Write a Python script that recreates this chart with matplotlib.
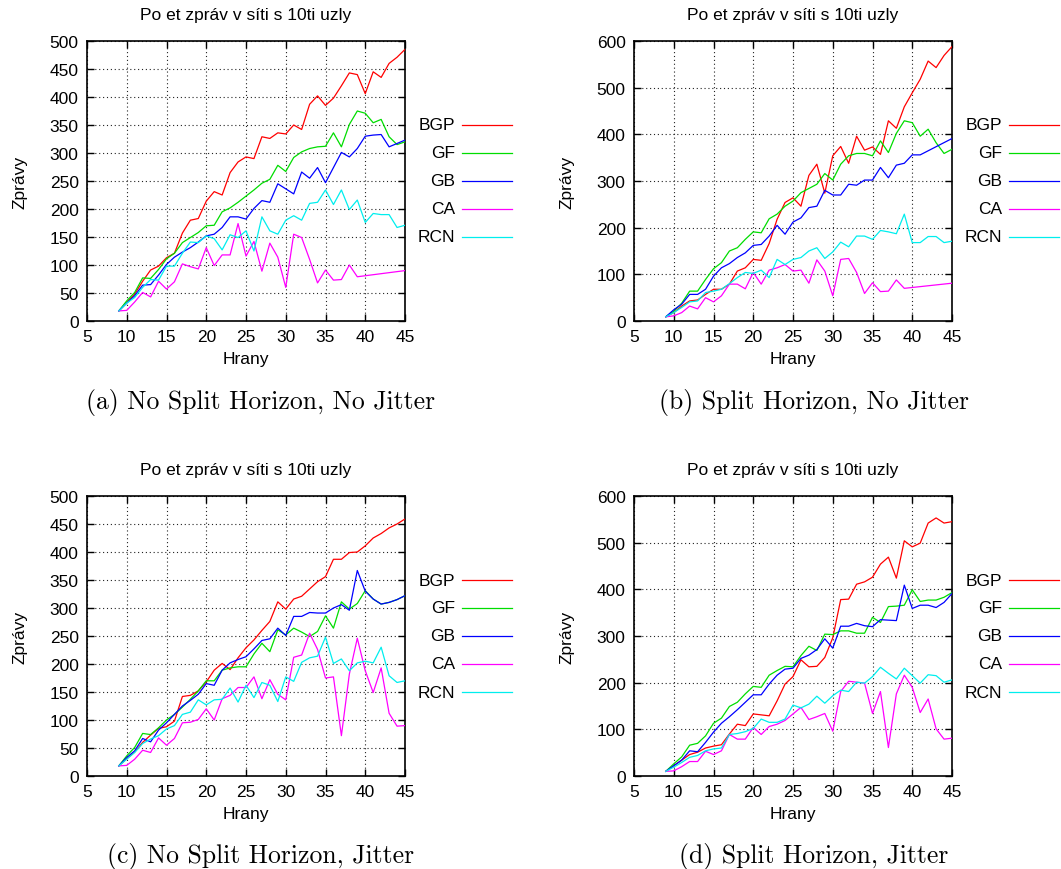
import matplotlib
matplotlib.use("Agg")
import matplotlib.pyplot as plt
from matplotlib.lines import Line2D
import numpy as np

# ---------------- data ----------------
EDGES = list(range(9, 46))
SERIES = ["BGP", "GF", "GB", "CA", "RCN"]
COLORS = {"BGP": "#ff0000", "GF": "#00dd00", "GB": "#0000ff", "CA": "#ff00ff", "RCN": "#00eeee"}
N = None

# (a) No Split Horizon, No Jitter
BGP_a = [18, 33, 48, 71, 91, 98, 113, 121, 157, 180, 183, 214, 231, 225, 265, 284, 293, 290, 329, 326,
         336, 334, 350, 342, 387, 402, 385, 398, 420, 443, 440, 406, 445, 435, 460, 471, 485]
GF_a = [18, 36, 51, 77, 76, 92, 111, 121, 140, 149, 158, 170, 171, 195, 202, 212, 223, 234, 246, 253,
        278, 267, 292, 302, 308, 311, 312, 336, 311, 351, 375, 371, 354, 360, 329, 315, 320]
GB_a = [18, 32, 45, 64, 65, 82, 101, 114, 123, 131, 141, 152, 155, 167, 186, 186, 182, 201, 215, 212,
        245, 236, 227, 266, 255, 274, 247, 274, 301, 293, 308, 330, 332, 333, 311, 317, 323]
CA_a = [18, 19, 34, 51, 43, 71, 57, 70, 102, 97, 93, 131, 99, 118, 118, 174, 116, 142, 89, 139,
        114, 60, 155, 149, 110, 68, 91, 73, 74, 100, 79, N, N, N, N, N, 90]
RCN_a = [18, 32, 42, 60, 74, 73, 98, 98, 121, 141, 140, 152, 147, 127, 154, 149, 161, 125, 186, 161,
         155, 180, 188, 180, 210, 212, 234, 208, 234, 199, 216, 176, 192, 190, 190, 167, 171]

# (b) Split Horizon, No Jitter
BGP_b = [9, 18, 32, 43, 45, 57, 68, 68, 79, 107, 114, 132, 130, 166, 218, 254, 264, 246, 312, 336,
         274, 354, 374, 338, 396, 366, 373, 357, 429, 413, 459, 489, 518, 557, 543, 569, 588]
GF_b = [9, 21, 38, 64, 64, 89, 112, 125, 150, 157, 175, 191, 189, 219, 229, 246, 257, 275, 284, 293,
        316, 302, 336, 354, 359, 359, 354, 386, 361, 402, 429, 425, 396, 411, 382, 359, 368]
GB_b = [9, 24, 36, 57, 57, 68, 96, 114, 123, 136, 146, 162, 164, 182, 205, 186, 212, 221, 243, 246,
        280, 270, 270, 293, 291, 302, 302, 329, 307, 334, 338, 356, 356, N, N, N, 391]
CA_b = [9, 11, 18, 32, 26, 50, 41, 54, 79, 79, 69, 104, 79, 109, 114, 121, 107, 109, 81, 131,
        107, 54, 132, 134, 104, 59, 82, 63, 64, 88, 70, N, N, N, N, N, 81]
RCN_b = [9, 18, 29, 41, 43, 61, 64, 68, 80, 93, 104, 102, 109, 93, 132, 121, 132, 136, 150, 157,
         134, 148, 169, 159, 182, 182, 175, 194, 191, 187, 229, 168, 168, 181, 181, 168, 171]

# (c) No Split Horizon, Jitter
BGP_c = [18, 31, 43, 60, 73, 85, 88, 98, 142, 144, 152, 168, 189, 201, 190, 211, 229, 243, 260, 276,
         311, 298, 316, 321, 334, 347, 356, 387, 387, 399, 400, 411, 425, 433, 443, 450, 459]
GF_c = [18, 36, 51, 76, 74, 86, 100, 110, 123, 137, 152, 170, 170, 189, 193, 195, 195, 218, 237, 222,
        261, 252, 264, 257, 249, 258, 286, 264, 311, 298, 308, 331, 316, 307, 310, 315, 322]
GB_c = [18, 33, 45, 67, 61, 82, 95, 110, 125, 135, 146, 165, 162, 189, 202, 208, 213, 227, 242, 245,
        264, 251, 285, 285, 292, 291, 291, 300, 306, 296, 367, 330, 316, 307, 310, 315, 322]
CA_c = [18, 19, 30, 46, 42, 68, 55, 67, 95, 96, 101, 120, 100, 138, 144, 158, 158, 177, 138, 172,
        146, 136, 212, 216, 255, 226, 175, 177, 72, 182, 246, 188, 149, 193, 112, 89, 90]
RCN_c = [18, 30, 42, 58, 66, 72, 84, 90, 110, 114, 136, 127, 136, 137, 157, 132, 162, 140, 167, 162,
         133, 177, 169, 203, 211, 214, 248, 201, 209, 188, 202, 205, 202, 230, 179, 167, 170]

# (d) Split Horizon, Jitter
BGP_d = [10, 22, 34, 46, 51, 60, 64, 67, 90, 111, 108, 133, 131, 129, 161, 197, 213, 249, 234, 235,
         254, 296, 378, 379, 411, 416, 426, 454, 469, 424, 504, 491, 499, 542, 553, 542, 545]
GF_d = [10, 26, 41, 66, 70, 86, 113, 124, 149, 158, 176, 192, 190, 216, 226, 235, 234, 258, 278, 269,
        304, 303, 311, 311, 306, 306, 340, 329, 363, 364, 366, 399, 374, 377, 377, 383, 393]
GB_d = [10, 22, 34, 54, 52, 72, 94, 113, 127, 142, 158, 174, 174, 197, 216, 229, 231, 252, 259, 271,
        294, 274, 321, 321, 327, 322, 320, 335, 334, 333, 409, 359, 366, 366, 361, 372, 391]
CA_d = [10, 11, 20, 31, 31, 53, 46, 54, 89, 79, 79, 104, 89, 106, 111, 119, 133, 147, 121, 127,
        134, 96, 181, 203, 201, 199, 134, 181, 61, 176, 216, 190, 136, 165, 101, 79, 81]
RCN_d = [10, 19, 29, 40, 44, 54, 58, 60, 89, 91, 95, 102, 122, 115, 115, 122, 152, 146, 154, 171,
         156, 172, 184, 181, 201, 199, 213, 233, 220, 208, 231, 215, 199, 217, 215, 201, 206]

TITLE = "Po et zpráv v síti s 10ti uzly"
XLABEL = "Hrany"
YLABEL = "Zprávy"
CAPTIONS = ["(a) No Split Horizon, No Jitter", "(b) Split Horizon, No Jitter",
            "(c) No Split Horizon, Jitter", "(d) Split Horizon, Jitter"]
X_TICKS = [5, 10, 15, 20, 25, 30, 35, 40, 45]
Y_TICKS_A = [0, 50, 100, 150, 200, 250, 300, 350, 400, 450, 500]
Y_TICKS_B = [0, 100, 200, 300, 400, 500, 600]

PANELS = [
    dict(data=[BGP_a, GF_a, GB_a, CA_a, RCN_a], yticks=Y_TICKS_A),
    dict(data=[BGP_b, GF_b, GB_b, CA_b, RCN_b], yticks=Y_TICKS_B),
    dict(data=[BGP_c, GF_c, GB_c, CA_c, RCN_c], yticks=Y_TICKS_A),
    dict(data=[BGP_d, GF_d, GB_d, CA_d, RCN_d], yticks=Y_TICKS_B),
]

# ---------------- layout ----------------
W, H = 1061, 870
fig = plt.figure(figsize=(W / 100, H / 100), dpi=100)
SANS = "Liberation Sans"
FS = 12.5


def fx(px):
    return px / W


def fy(py):
    return 1 - py / H


# axes rectangles: (left, top, right, bottom) in px
RECTS = [(87, 42, 405, 322), (634, 42, 952, 322), (87, 497, 405, 777), (634, 497, 952, 777)]
CAP_X = [261, 814, 261, 814]
CAP_Y = [402, 402, 857, 857]

for i, (panel, (l, t, r, b)) in enumerate(zip(PANELS, RECTS)):
    ax = fig.add_axes([fx(l), fy(b), (r - l) / W, (b - t) / H])
    for name, vals in zip(SERIES, panel["data"]):
        xs = [x for x, v in zip(EDGES, vals) if v is not None]
        ys = [v for v in vals if v is not None]
        ax.plot(xs, ys, color=COLORS[name], lw=0.9, zorder=3)
    ax.set_xlim(5, 45)
    ax.set_ylim(panel["yticks"][0], panel["yticks"][-1])
    ax.set_xticks(X_TICKS)
    ax.set_yticks(panel["yticks"])
    ax.tick_params(direction="in", length=5, width=1.0, top=True, right=True,
                   labelsize=FS, pad=6, colors="black")
    for lab in ax.get_xticklabels() + ax.get_yticklabels():
        lab.set_fontfamily(SANS)
    ax.grid(True, color="#222222", linestyle=(0, (1, 2.5)), linewidth=0.8, zorder=1)
    for sp in ax.spines.values():
        sp.set_linewidth(1.2)
    ax.set_title(TITLE, fontfamily=SANS, fontsize=FS, pad=16)
    ax.set_xlabel(XLABEL, fontfamily=SANS, fontsize=FS, labelpad=5)
    ax.set_ylabel(YLABEL, fontfamily=SANS, fontsize=FS, labelpad=16)

    # legend (gnuplot-style: label right-aligned, sample line to its right)
    ly0 = t + 84
    for k, name in enumerate(SERIES):
        yy = ly0 + 28 * k
        fig.text(fx(r + 50), fy(yy), name, ha="right", va="center",
                 fontfamily=SANS, fontsize=FS)
        fig.add_artist(Line2D([fx(r + 57), fx(r + 107)], [fy(yy), fy(yy)],
                              color=COLORS[name], lw=0.9))

    fig.text(fx(CAP_X[i]), fy(CAP_Y[i]), CAPTIONS[i], ha="center", va="center",
             fontfamily="cmr10", fontsize=18.5)

fig.savefig("out.png", dpi=100)
